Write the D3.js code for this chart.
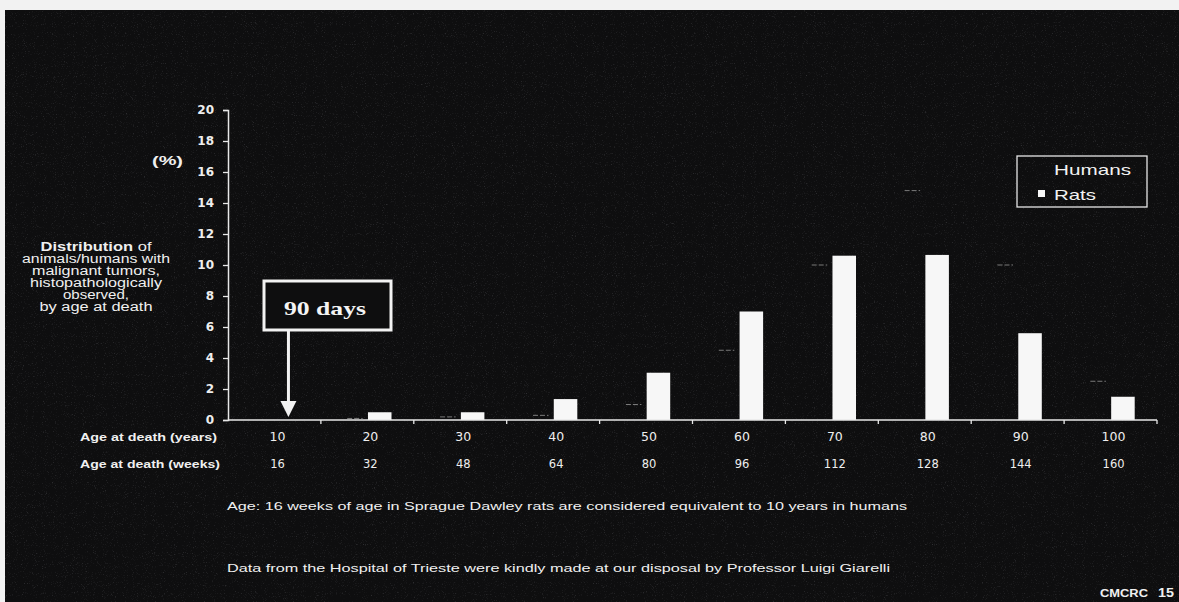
<!DOCTYPE html>
<html>
<head>
<meta charset="utf-8">
<script src="https://cdn.jsdelivr.net/npm/d3@7"></script>
<style>
  html, body { margin: 0; padding: 0; background: #ffffff; }
  svg { display: block; }
</style>
</head>
<body>
<svg id="chart" width="1179" height="602"></svg>
<script>
// Age at death (years) for humans and equivalent age in weeks for rats
const ageYears = ["10", "20", "30", "40", "50", "60", "70", "80", "90", "100"];
const ageWeeks = ["16", "32", "48", "64", "80", "96", "112", "128", "144", "160"];
// Share (%) of animals / humans with malignant tumours by age at death
const humans = [0, 0.1, 0.2, 0.3, 1.0, 4.5, 10.0, 14.8, 10.0, 2.5];
const rats = [0, 0.5, 0.5, 1.35, 3.05, 7.0, 10.6, 10.65, 5.6, 1.5];
const seriesNames = ["Humans", "Rats"];
const yTicks = [0, 2, 4, 6, 8, 10, 12, 14, 16, 18, 20];
// each line: [bold part, regular part]
const titleLines = [
  ["Distribution", " of"],
  ["", "animals/humans with"],
  ["", "malignant tumors,"],
  ["", "histopathologically"],
  ["", "observed,"],
  ["", "by age at death"]
];

const svg = d3.select("#chart");
const W = 1179, H = 602;
const plotLeft = 228, plotRight = 1157, plotTop = 110, plotBottom = 420;
const bg = "#0e0e0f";

// dark slide background with a thin light frame at top and left
svg.append("rect").attr("width", W).attr("height", H).attr("fill", "#f2f2f2");
const defs = svg.append("defs");
const grain = defs.append("filter").attr("id", "grain").attr("x", 0).attr("y", 0).attr("width", "100%").attr("height", "100%");
grain.append("feTurbulence").attr("type", "fractalNoise").attr("baseFrequency", 0.9).attr("numOctaves", 2).attr("seed", 7).attr("result", "n");
grain.append("feColorMatrix").attr("in", "n").attr("type", "matrix")
  .attr("values", "0 0 0 0 0.45  0 0 0 0 0.45  0 0 0 0 0.5  1.6 0 0 0 -0.95");
svg.append("rect").attr("x", 5).attr("y", 10).attr("width", W - 5).attr("height", H - 10).attr("fill", bg);
svg.append("rect").attr("x", 5).attr("y", 10).attr("width", W - 5).attr("height", H - 10).attr("filter", "url(#grain)").attr("opacity", 0.4);

const x = d3.scaleBand().domain(ageYears).range([plotLeft, plotRight]).padding(0);
const x1 = d3.scaleBand().domain(seriesNames).range([0, x.bandwidth()]).paddingInner(0.05).paddingOuter(0.9);
const y = d3.scaleLinear().domain([0, 20]).range([plotBottom, plotTop]);

const data = ageYears.map((a, i) => ({ age: a, Humans: humans[i], Rats: rats[i] }));

// humans series: black bars on the black slide, only their dashed top edge shows
const g = svg.append("g");
g.selectAll("rect.h").data(data).join("rect").attr("class", "h")
  .attr("x", d => x(d.age) + x1("Humans"))
  .attr("y", d => y(d.Humans))
  .attr("width", x1.bandwidth())
  .attr("height", d => y(0) - y(d.Humans))
  .attr("fill", "none");
g.selectAll("line.h").data(data.filter(d => d.Humans > 0)).join("line").attr("class", "h")
  .attr("x1", d => x(d.age) + x1("Humans") + 4)
  .attr("x2", d => x(d.age) + x1("Humans") + x1.bandwidth() - 4)
  .attr("y1", d => y(d.Humans)).attr("y2", d => y(d.Humans))
  .attr("stroke", "#7a7a7a").attr("stroke-width", 1).attr("stroke-dasharray", "5,2");

// rats series: white bars
g.selectAll("rect.r").data(data).join("rect").attr("class", "r")
  .attr("x", d => x(d.age) + x1("Rats"))
  .attr("y", d => y(d.Rats))
  .attr("width", x1.bandwidth())
  .attr("height", d => y(0) - y(d.Rats))
  .attr("fill", "#f7f7f7");

// y axis
const yAxis = svg.append("g").attr("transform", `translate(${plotLeft},0)`)
  .call(d3.axisLeft(y).tickValues(yTicks).tickSize(5).tickPadding(9));
yAxis.select(".domain").attr("stroke", "#e8e8e8").attr("stroke-width", 1.5);
yAxis.selectAll(".tick line").attr("stroke", "#e8e8e8").attr("stroke-width", 1.3);
yAxis.selectAll(".tick text").attr("fill", "#eeeeee")
  .attr("font-family", "DejaVu Sans").attr("font-weight", "bold").attr("font-size", 12);

// x axis with ticks between categories
const xAxisG = svg.append("g");
xAxisG.append("line").attr("x1", plotLeft).attr("x2", plotRight).attr("y1", plotBottom).attr("y2", plotBottom)
  .attr("stroke", "#e8e8e8").attr("stroke-width", 1.5);
xAxisG.selectAll("line.t").data(ageYears).join("line").attr("class", "t")
  .attr("x1", d => x(d) + x.bandwidth()).attr("x2", d => x(d) + x.bandwidth())
  .attr("y1", plotBottom).attr("y2", plotBottom + 4)
  .attr("stroke", "#e8e8e8").attr("stroke-width", 1.3);

svg.append("g").selectAll("text").data(ageYears).join("text")
  .attr("x", d => x(d) + x.bandwidth() / 2 + 3).attr("y", 441)
  .attr("text-anchor", "middle").attr("fill", "#eeeeee")
  .attr("font-family", "DejaVu Sans").attr("font-size", 12.5)
  .text(d => d);
svg.append("g").selectAll("text").data(ageWeeks).join("text")
  .attr("x", (d, i) => x(ageYears[i]) + x.bandwidth() / 2 + 3).attr("y", 468)
  .attr("text-anchor", "middle").attr("fill", "#eeeeee")
  .attr("font-family", "DejaVu Sans").attr("font-size", 11.5)
  .text(d => d);

function label(txt, xx, yy, opts) {
  const t = svg.append("text").attr("x", xx).attr("y", yy)
    .attr("fill", opts.fill || "#f0f0f0")
    .attr("font-family", opts.family || "Liberation Sans")
    .attr("font-size", opts.size || 11)
    .attr("font-weight", opts.weight || "normal")
    .attr("text-anchor", opts.anchor || "start")
    .text(txt);
  if (opts.len) t.attr("textLength", opts.len).attr("lengthAdjust", "spacingAndGlyphs");
  return t;
}

label("Age at death (years)", 80, 441, { weight: "bold", size: 11.5, len: 137 });
label("Age at death (weeks)", 80, 468, { weight: "bold", size: 11.5, len: 140 });
label("(%)", 152, 165, { weight: "bold", size: 13, len: 31 });

// left descriptive title
const titleY = [251, 263, 275, 287, 299, 311];
const titleW = [111, 148, 128, 132, 66, 113];
titleLines.forEach((parts, i) => {
  const t = svg.append("text").attr("x", 96).attr("y", titleY[i])
    .attr("text-anchor", "middle").attr("fill", "#f0f0f0")
    .attr("font-family", "Liberation Sans").attr("font-size", 12.5)
    .attr("textLength", titleW[i]).attr("lengthAdjust", "spacingAndGlyphs");
  if (parts[0]) t.append("tspan").attr("font-weight", "bold").text(parts[0]);
  if (parts[1]) t.append("tspan").text(parts[1]);
});

// legend
const lg = svg.append("g");
lg.append("rect").attr("x", 1017).attr("y", 156).attr("width", 130).attr("height", 51)
  .attr("fill", "none").attr("stroke", "#e6e6e6").attr("stroke-width", 1.3);
const legendColors = { Humans: bg, Rats: "#f7f7f7" };
const legendLen = { Humans: 77, Rats: 42 };
seriesNames.forEach((s, i) => {
  const base = 175 + i * 25;
  lg.append("rect").attr("x", 1038).attr("y", base - 10).attr("width", 7).attr("height", 7)
    .attr("fill", legendColors[s]);
  label(s, 1054, base, { size: 15, fill: "#f2f2f2", len: legendLen[s] });
});

// annotation box and arrow pointing at the first category
const annX = x(ageYears[0]) + x.bandwidth() / 2 + 14;
svg.append("rect").attr("x", 264).attr("y", 281).attr("width", 127).attr("height", 49)
  .attr("fill", bg).attr("stroke", "#f2f2f2").attr("stroke-width", 3);
label("90 days", 325, 315, { family: "Liberation Serif", weight: "bold", size: 19, anchor: "middle", fill: "#f4f4f4", len: 82 });
svg.append("line").attr("x1", annX).attr("x2", annX).attr("y1", 331).attr("y2", 402)
  .attr("stroke", "#f2f2f2").attr("stroke-width", 3);
svg.append("path")
  .attr("d", `M${annX - 8},401 L${annX + 8},401 L${annX},${y(0) - 3} Z`)
  .attr("fill", "#f2f2f2");

// footnotes
label("Age: 16 weeks of age in Sprague Dawley rats are considered equivalent to 10 years in humans", 227, 510, { size: 11.5, len: 680 });
label("Data from the Hospital of Trieste were kindly made at our disposal by Professor Luigi Giarelli", 227, 572, { size: 11, len: 663 });
label("CMCRC", 1100, 597, { weight: "bold", size: 10, len: 48 });
label("15", 1158, 597, { weight: "bold", size: 12, len: 16 });
</script>
</body>
</html>
